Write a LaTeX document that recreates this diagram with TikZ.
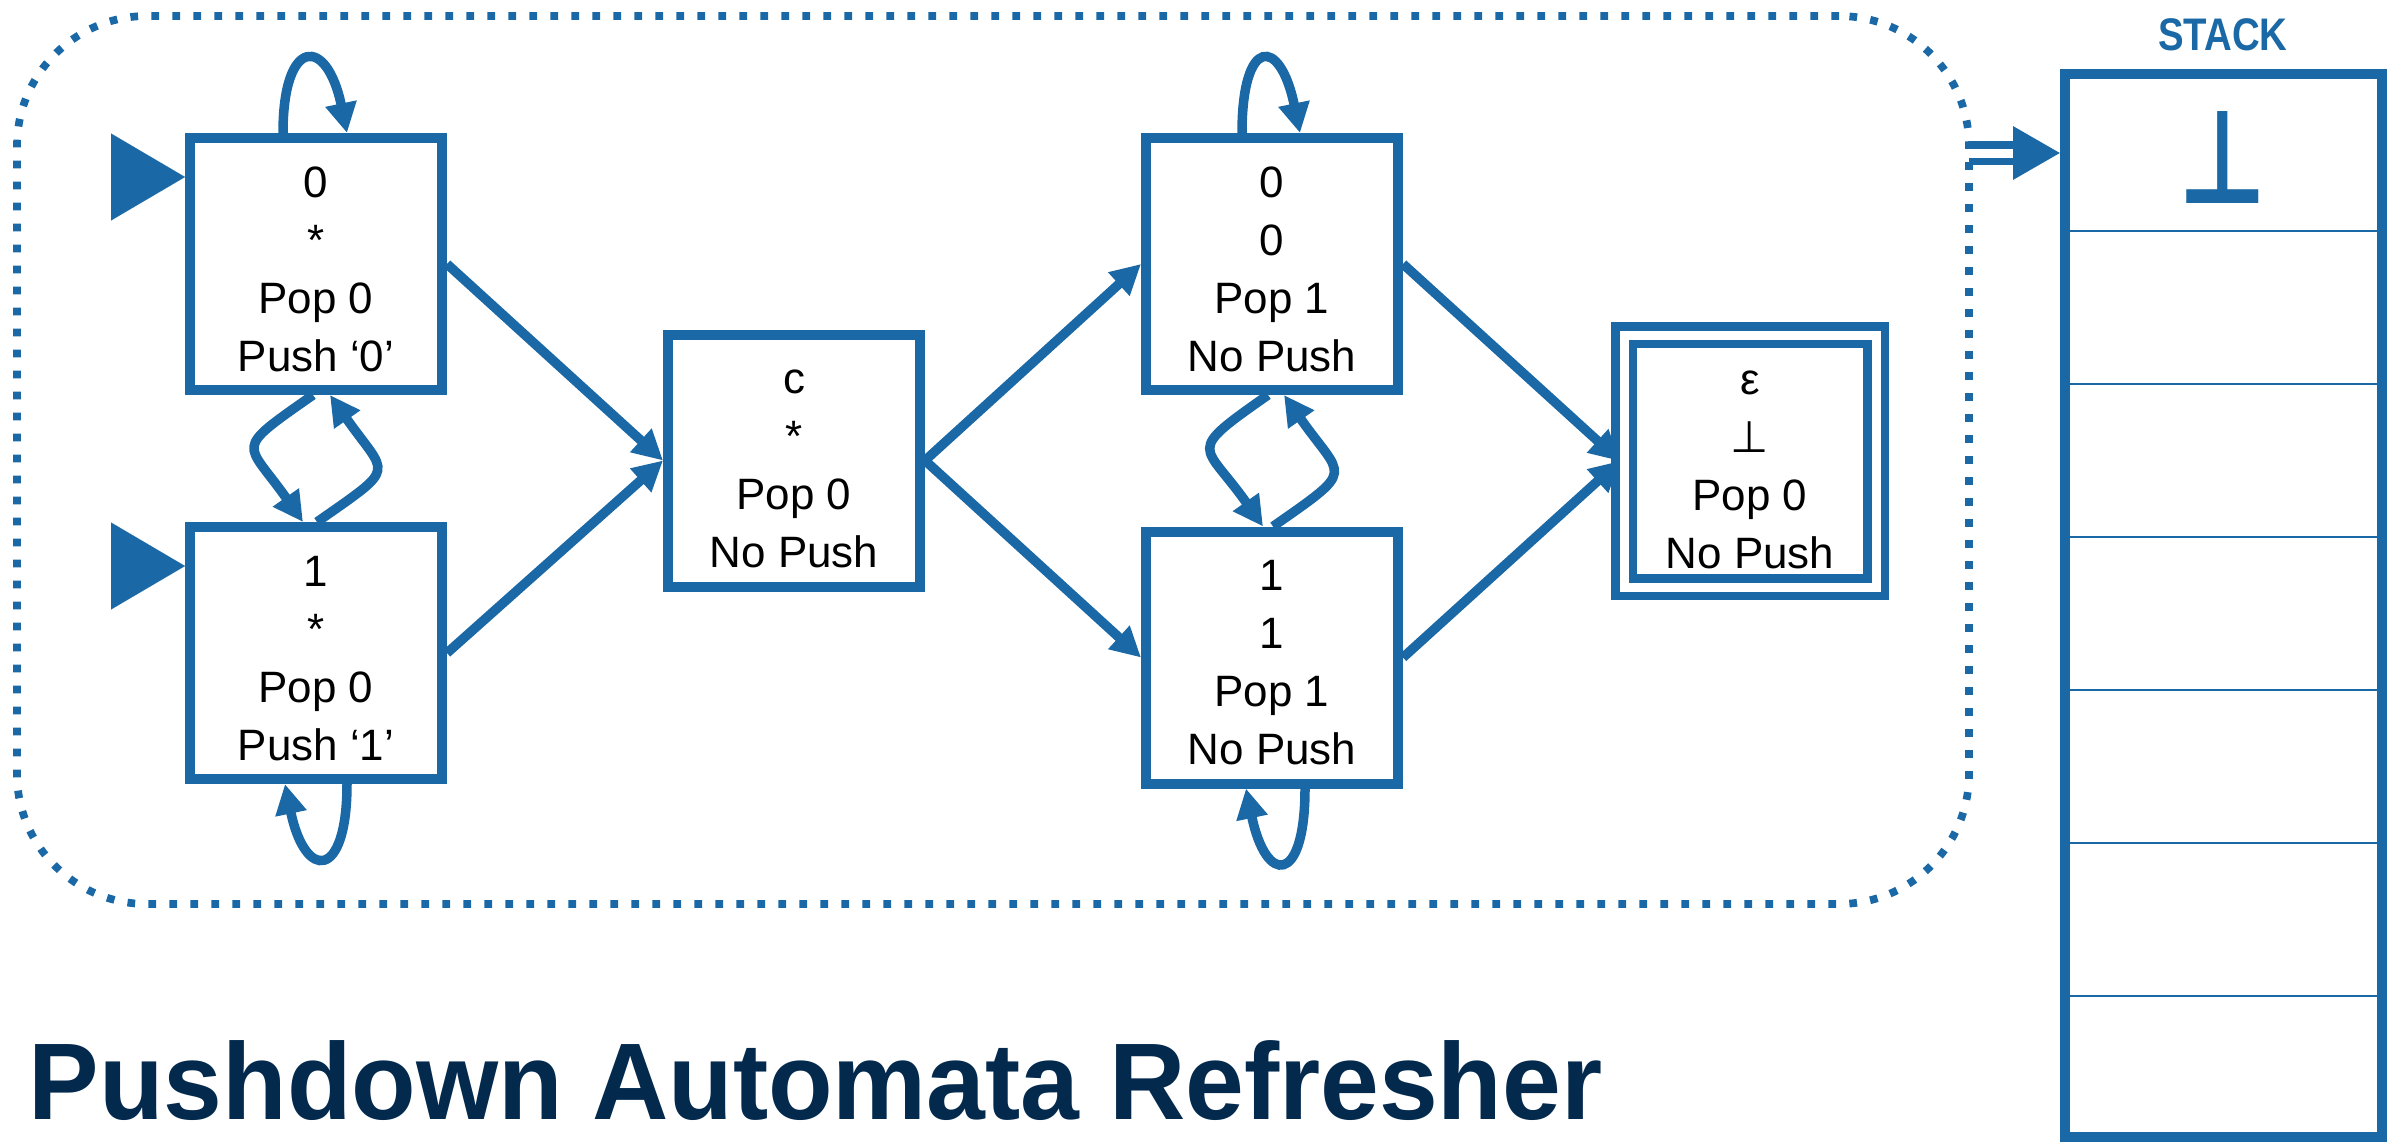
\documentclass[tikz,border=0pt]{standalone}
\usepackage{fontspec}
\usepackage{graphicx}
\setmainfont{Liberation Sans}
\newfontfamily\symbfont{DejaVu Sans}
\newfontfamily\headfont[FakeStretch=0.84]{Liberation Sans}
\newfontfamily\titlefont[FakeStretch=0.97]{Liberation Sans}
\usetikzlibrary{arrows.meta}
\definecolor{pdablue}{RGB}{26,104,165}
\definecolor{titlenavy}{RGB}{3,41,77}

% nội dung một trạng thái: ký tự đọc, đỉnh ngăn xếp, pop, push
\newcommand{\pdastate}[4]{\rule{0pt}{11.7pt}#1\\#2\\#3\\#4}

\begin{document}
\begin{tikzpicture}[>={Triangle[length=0.3cm,width=0.3cm]},
    stbox/.style={draw=pdablue, line width=0.1cm, minimum width=2.52cm,
        minimum height=2.52cm, inner sep=0pt, align=center,
        font=\fontsize{12.5}{16.5}\selectfont},
    accbox/.style={stbox, double, double distance=0.09cm, line width=0.085cm},
    trans/.style={->, draw=pdablue, line width=0.095cm},
    entry/.style={-{Triangle[length=0.74cm,width=0.87cm]}, draw=pdablue, line width=0.01pt},
    pdabox/.style={draw=pdablue, line width=0.077cm, dash pattern=on 0.077cm off 0.133cm,
        rounded corners=1.3cm, minimum width=19.52cm, minimum height=8.88cm, outer sep=0pt},
    stackbox/.style={draw=pdablue, line width=0.1cm, minimum width=3.17cm, minimum height=10.63cm}]
    \useasboundingbox (0,0) rectangle (23.99,11.42);

    % 1. Khung chấm bao quanh automat
    \node[pdabox] (pda) at (9.93,6.82) {};

    % 2. Các trạng thái
    \node[stbox] (q0) at (3.16,8.78) {\pdastate{0}{*}{Pop 0}{Push ‘0’}};
    \node[stbox] (q1) at (3.16,4.89) {\pdastate{1}{*}{Pop 0}{Push ‘1’}};
    \node[stbox] (qc) at (7.94,6.815) {\pdastate{c}{*}{Pop 0}{No Push}};
    \node[stbox] (q00) at (12.72,8.78) {\pdastate{0}{0}{Pop 1}{No Push}};
    \node[stbox] (q11) at (12.72,4.845) {\pdastate{1}{1}{Pop 1}{No Push}};
    \node[accbox] (qf) at (17.50,6.81) {\pdastate{ε}{{\symbfont ⊥}}{Pop 0}{No Push}};

    % 3. Mũi tên bắt đầu
    \coordinate (in0) at ([shift={(-0.74cm,0.87cm)}]q0.west);
    \coordinate (in1) at ([shift={(-0.74cm,0.87cm)}]q1.west);
    \draw[entry] (in0) -- ([yshift=0.87cm]q0.west);
    \draw[entry] (in1) -- ([yshift=0.87cm]q1.west);

    % 4. Các cung chuyển trạng thái
    \draw[trans] (q0.east) -- (qc.west);
    \draw[trans] (q1.east) -- (qc.west);
    \draw[trans] (qc.east) -- (q00.west);
    \draw[trans] (qc.east) -- (q11.west);
    \draw[trans] (q00.east) -- (qf.west);
    \draw[trans] (q11.east) -- (qf.west);
    \draw[trans] ([xshift=-0.03cm]q0.south) to[out=-145,in=125,looseness=2] ([xshift=-0.13cm]q1.north);
    \draw[trans] ([xshift=0.01cm]q1.north) to[out=35,in=-55,looseness=2] ([xshift=0.14cm]q0.south);
    \draw[trans] ([xshift=-0.04cm]q00.south) to[out=-145,in=125,looseness=2] ([xshift=-0.09cm]q11.north);
    \draw[trans] ([xshift=0.01cm]q11.north) to[out=35,in=-55,looseness=2] ([xshift=0.12cm]q00.south);

    % 5. Vòng lặp
    \draw[trans] ([xshift=-0.33cm]q0.north) .. controls +(0,0.97) and +(-0.2,0.97) .. ([xshift=0.31cm]q0.north);
    \draw[trans] ([xshift=0.31cm]q1.south) .. controls +(0,-0.97) and +(0.2,-0.97) .. ([xshift=-0.31cm]q1.south);
    \draw[trans] ([xshift=-0.30cm]q00.north) .. controls +(0,0.97) and +(-0.2,0.97) .. ([xshift=0.28cm]q00.north);
    \draw[trans] ([xshift=0.33cm]q11.south) .. controls +(0,-0.97) and +(0.2,-0.97) .. ([xshift=-0.26cm]q11.south);

    % 6. Ngăn xếp
    \node[stackbox] (stack) at (22.235,5.365) {};
    \foreach \y in {9.11,7.58,6.05,4.52,2.99,1.46} {
        \draw[pdablue, line width=0.025cm] (stack.west |- 0,\y) -- (stack.east |- 0,\y);
    }
    \node[text=pdablue, font=\headfont\bfseries\fontsize{13}{13}\selectfont] (stacklabel) at (22.23,11.07) {STACK};
    \coordinate (topcell) at (22.23,9.89);
    \node[text=pdablue, inner sep=0pt, anchor=base, font=\symbfont\bfseries\fontsize{29}{29}\selectfont] (bot) at ([yshift=-0.51cm]topcell) {\scalebox{0.95}[1.28]{⊥}};
    \draw[pdablue, double, double distance=0.09cm, line width=0.07cm,
        -{Triangle[length=0.47cm,width=0.52cm]}] (pda.east |- topcell) -- (stack.west |- topcell);

    % 7. Tiêu đề
    \node[anchor=base west, inner sep=0pt, text=titlenavy,
        font=\titlefont\bfseries\fontsize{31}{31}\selectfont] (title) at (0.28,0.23) {Pushdown Automata Refresher};
\end{tikzpicture}
\end{document}
